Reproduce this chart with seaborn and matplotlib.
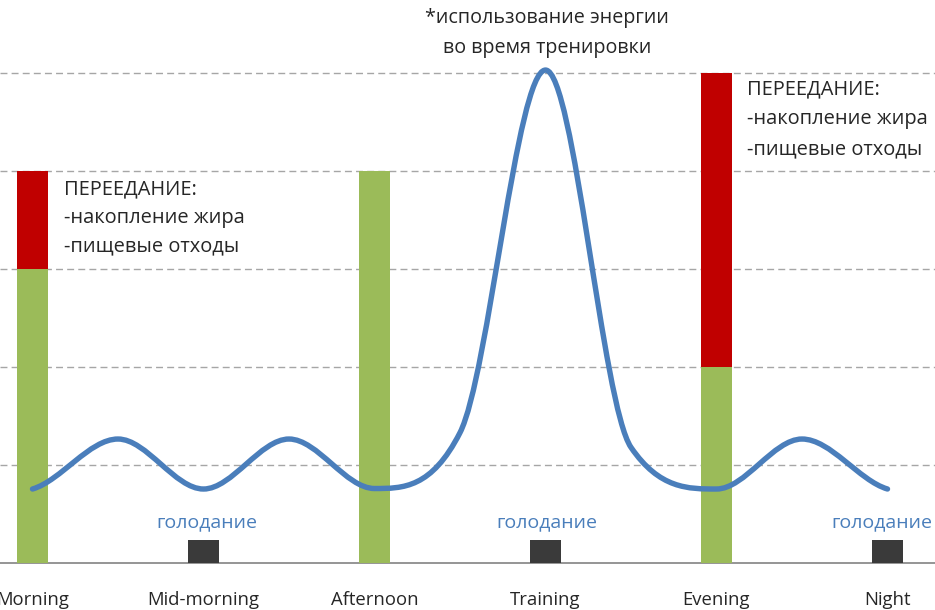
import numpy as np
import pandas as pd
import matplotlib
matplotlib.use("Agg")
import matplotlib.pyplot as plt
from matplotlib.path import Path
from matplotlib.patches import PathPatch
import seaborn as sns

# ---- data ----
categories = ["Morning", "Mid-morning", "Afternoon", "Training", "Evening", "Night"]
green_vals = [3, 0, 4, 0, 2, 0]          # useful intake
red_vals = [1, 0, 0, 0, 3, 0]            # overeating part
fast_vals = [0, 0.23, 0, 0.23, 0, 0.23]  # fasting blocks
curve_x = [0, 0.5, 1, 1.5, 2, 2.5, 3, 3.5, 4, 4.5, 5]
curve_y = [0.755, 1.265, 0.755, 1.265, 0.76, 1.33, 5.03, 1.18, 0.755, 1.265, 0.755]

GREEN = "#9bbb59"
RED = "#c00000"
DARK = "#3a3a3a"
BLUE = "#4a7ebb"
TXT = "#262626"

sns.set_style("white")
plt.rcParams["font.family"] = ["Open Sans", "DejaVu Sans"]

fig = plt.figure(figsize=(9.35, 6.1), dpi=100)
ax = fig.add_axes([0, 47 / 610, 1, 563 / 610])

total_vals = [g + r for g, r in zip(green_vals, red_vals)]
base_vals = [g if g > 0 else f for g, f in zip(green_vals, fast_vals)]
base_cols = [GREEN if g > 0 else DARK for g in green_vals]

df = pd.DataFrame({"cat": categories, "total": total_vals, "base": base_vals})

sns.barplot(data=df, x="cat", y="total", color=RED, width=0.185, linewidth=0,
            saturation=1, ax=ax, zorder=2)
sns.barplot(data=df, x="cat", y="base", hue="cat", palette=base_cols, width=0.185,
            linewidth=0, saturation=1, legend=False, ax=ax, zorder=3)

# smoothed line: the data points joined by cubic Bezier segments (Hermite tangents)
xs = np.asarray(curve_x, float)
ys = np.asarray(curve_y, float)
n = len(xs)
sec = np.diff(ys) / np.diff(xs)
m = np.zeros(n)
m[0] = 0.5 * sec[0]
m[-1] = 0.5 * sec[-1]
for i in range(1, n - 1):
    if sec[i - 1] * sec[i] <= 0:
        m[i] = 0.0
    else:
        c = (ys[i + 1] - ys[i - 1]) / (xs[i + 1] - xs[i - 1])
        lim = 3 * min(abs(sec[i - 1]), abs(sec[i]))
        m[i] = np.sign(c) * min(abs(c), lim)
verts = [(xs[0], ys[0])]
codes = [Path.MOVETO]
for i in range(n - 1):
    h = xs[i + 1] - xs[i]
    verts += [(xs[i] + h / 3, ys[i] + m[i] * h / 3),
              (xs[i + 1] - h / 3, ys[i + 1] - m[i + 1] * h / 3),
              (xs[i + 1], ys[i + 1])]
    codes += [Path.CURVE4] * 3
patch = PathPatch(Path(verts, codes), facecolor="none", edgecolor=BLUE, lw=3.9,
                  capstyle="round", joinstyle="round", zorder=5)
ax.add_patch(patch)

ax.set_xlim(-32.5 / 171, (935 - 32.5) / 171)
ax.set_ylim(0, 563 / 98)

# grid
ax.set_yticks([1, 2, 3, 4, 5])
ax.set_yticklabels([])
ax.tick_params(axis="y", length=0)
ax.grid(axis="y", color="#a6a6a6", linestyle=(0, (5, 3)), linewidth=1)
ax.set_axisbelow(True)

for s in ["top", "left", "right"]:
    ax.spines[s].set_visible(False)
ax.spines["bottom"].set_color("#8c8c8c")
ax.spines["bottom"].set_linewidth(1.3)

ax.set_xlabel("")
ax.set_ylabel("")
ax.set_xticks(range(len(categories)))
ax.set_xticklabels(categories, fontsize=13.3, color=TXT)
ax.tick_params(axis="x", which="major", length=0, pad=20)
ax.set_xticks([i - 0.25 for i in range(1, 6)], minor=True)
ax.tick_params(axis="x", which="minor", length=6, width=1, color="#8c8c8c", direction="out")

# annotations
fast_offsets = {1: 0.02, 3: 0.01, 5: -0.035}
for i, f in enumerate(fast_vals):
    if f > 0:
        ax.text(i + fast_offsets[i], 0.42, "голодание", color=BLUE, fontsize=14,
                ha="center", va="center", zorder=6)

ax.text(3.01, 5.56, "*использование энергии", color=TXT, fontsize=14.2,
        ha="center", va="center")
ax.text(3.01, 5.255, "во время тренировки", color=TXT, fontsize=14.2,
        ha="center", va="center")

for x0, ys_ in [(0.184, (3.81, 3.52, 3.23)), (4.178, (4.83, 4.53, 4.22))]:
    for txt, y in zip(["ПЕРЕЕДАНИЕ:", "-накопление жира", "-пищевые отходы"], ys_):
        ax.text(x0, y, txt, color=TXT, fontsize=14.4, ha="left", va="center", zorder=6)

fig.savefig("out.png", dpi=100)
